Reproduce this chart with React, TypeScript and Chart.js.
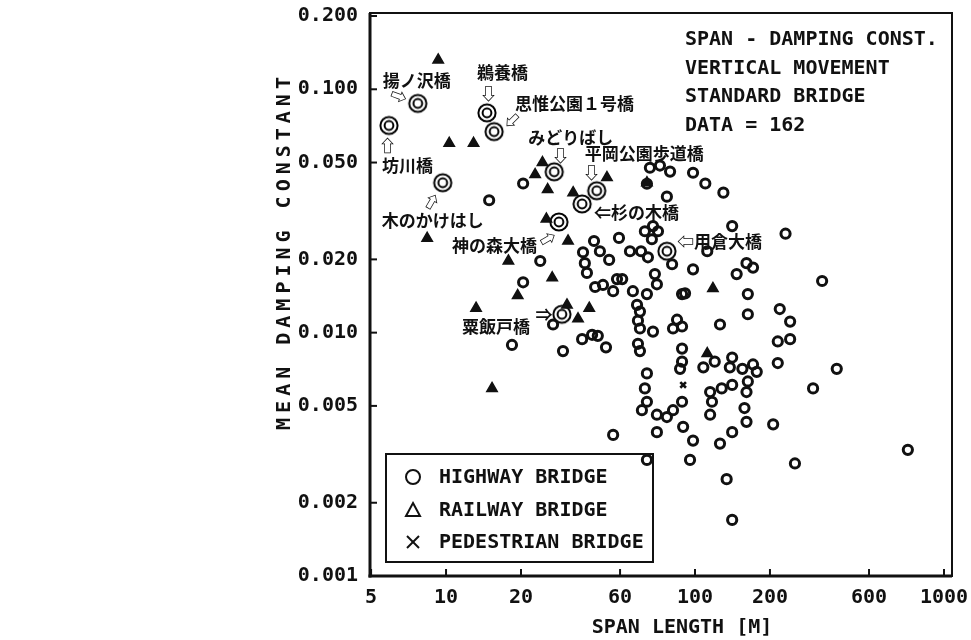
import React, { useEffect, useRef } from "react";
import { Chart, registerables } from "chart.js";

Chart.register(...registerables);

// ---------- DATA ----------
const highway: [number, number][] = [
  [20.4, 0.041], [14.9, 0.035], [23.9, 0.0197], [20.4, 0.0161], [18.4, 0.0089],
  [26.9, 0.0108], [29.5, 0.0084], [35.2, 0.0094], [38.6, 0.0098], [40.7, 0.0097],
  [43.9, 0.0087], [46.9, 0.0038], [35.5, 0.0214], [39.3, 0.0238], [41.5, 0.0216],
  [45.2, 0.0199], [36.1, 0.0193], [36.8, 0.0176], [39.7, 0.0154], [46.9, 0.0148],
  [48.6, 0.0166], [49.5, 0.0245], [42.7, 0.0157], [65.9, 0.0476], [72.3, 0.0486],
  [79.4, 0.0459], [64.1, 0.0409], [77.1, 0.0362], [98.2, 0.0454], [110, 0.041],
  [130, 0.0376], [141, 0.0274], [231, 0.0255], [62.9, 0.0261], [67.8, 0.0274],
  [71.0, 0.0261], [67.1, 0.0242], [54.8, 0.0216], [60.7, 0.0216], [64.7, 0.0204],
  [80.9, 0.0191], [51.0, 0.0166], [56.3, 0.0148], [69.0, 0.0174], [70.3, 0.0158],
  [64.1, 0.0144], [112, 0.0216], [98.2, 0.0182], [147, 0.0174], [161, 0.0193],
  [171, 0.0185], [163, 0.0144], [91.2, 0.0145], [324, 0.0163], [58.5, 0.013],
  [60.1, 0.0122], [59.0, 0.0112], [60.1, 0.0104], [67.8, 0.0101], [59.0, 0.009],
  [60.1, 0.0084], [84.7, 0.0113], [88.7, 0.0106], [81.6, 0.0104], [88.7, 0.0086],
  [88.7, 0.0076], [87.1, 0.0071], [64.1, 0.0068], [62.9, 0.0059], [64.1, 0.0052],
  [61.2, 0.0048], [70.3, 0.0046], [77.1, 0.0045], [81.6, 0.0048], [88.7, 0.0052],
  [89.6, 0.0041], [70.3, 0.0039], [64.1, 0.003], [88.7, 0.0144], [163, 0.0119],
  [126, 0.0108], [219, 0.0125], [241, 0.0111], [215, 0.0092], [241, 0.0094],
  [215, 0.0075], [371, 0.0071], [298, 0.0059], [120, 0.0076], [108, 0.0072],
  [141, 0.0079], [138, 0.0072], [155, 0.0071], [171, 0.0074], [177, 0.0069],
  [163, 0.0063], [141, 0.0061], [128, 0.0059], [115, 0.0057], [117, 0.0052],
  [115, 0.0046], [161, 0.0057], [158, 0.0049], [161, 0.0043], [206, 0.0042],
  [141, 0.0039], [126, 0.0035], [98.2, 0.0036], [95.5, 0.003], [252, 0.0029],
  [134, 0.0025], [141, 0.0017], [716, 0.0033],
];

const railway: [number, number][] = [
  [9.3, 0.132], [10.3, 0.060], [12.9, 0.060], [22.8, 0.0446], [8.4, 0.0244],
  [17.8, 0.0197], [19.4, 0.0142], [13.2, 0.0126], [15.3, 0.0059], [24.4, 0.05],
  [25.6, 0.0387], [32.4, 0.0376], [44.3, 0.0434], [64.1, 0.0413], [25.3, 0.0293],
  [30.9, 0.0238], [26.7, 0.0168], [30.6, 0.013], [37.6, 0.0126], [33.9, 0.0114],
  [118, 0.0152], [112, 0.0082],
];

const pedestrian: [number, number][] = [[89.6, 0.0061]];

const namedBridges = [
  "揚ノ沢橋", "坊川橋", "鵜養橋", "思惟公園１号橋", "木のかけはし", "みどりばし",
  "平岡公園歩道橋", "杉の木橋", "神の森大橋", "粟飯戸橋", "用倉大橋",
];
const namedSpan = [7.7, 5.9, 14.6, 15.6, 9.7, 27.2, 40.3, 35.2, 28.4, 29.2, 77.1];
const namedDamping = [0.0875, 0.071, 0.080, 0.067, 0.0413, 0.0458, 0.0383, 0.0338, 0.0285, 0.0119, 0.0216];

const xTickValues = [5, 10, 20, 50, 100, 200, 500, 1000];
const xTickLabels = ["5", "10", "20", "60", "100", "200", "600", "1000"];
const yTickValues = [0.001, 0.002, 0.005, 0.01, 0.02, 0.05, 0.1, 0.2];
const yTickLabels = ["0.001", "0.002", "0.005", "0.010", "0.020", "0.050", "0.100", "0.200"];

const infoLines = ["SPAN - DAMPING CONST.", "VERTICAL MOVEMENT", "STANDARD BRIDGE", "DATA = 162"];
const legendLabels = ["HIGHWAY BRIDGE", "RAILWAY BRIDGE", "PEDESTRIAN BRIDGE"];
const xTitle = "SPAN LENGTH [M]";
const yTitle = "MEAN DAMPING CONSTANT";

// ---------- STYLE / LAYOUT ----------
const INK = "#111111";
const MONO = "'DejaVu Sans Mono', 'Liberation Mono', monospace";
const JP = "'Noto Sans CJK JP', 'DejaVu Sans', sans-serif";

type LabelLayout = {
  dx: number; dy: number; align: CanvasTextAlign;
  arrow?: string; ax?: number; ay?: number; angle?: number; prefix?: string;
};
const namedLabelLayout: LabelLayout[] = [
  { dx: -35, dy: -23, align: "left", arrow: "⇨", ax: -19, ay: -7, angle: 20 },
  { dx: -7, dy: 40, align: "left", arrow: "⇨", ax: -1, ay: 20, angle: -90 },
  { dx: -10, dy: -40, align: "left", arrow: "⇨", ax: 1, ay: -19, angle: 90 },
  { dx: 21, dy: -28, align: "left", arrow: "⇨", ax: 18, ay: -11, angle: 135 },
  { dx: -61, dy: 38, align: "left", arrow: "⇨", ax: -11, ay: 19, angle: -60 },
  { dx: -26, dy: -34, align: "left", arrow: "⇨", ax: 6, ay: -16, angle: 90 },
  { dx: -12, dy: -37, align: "left", arrow: "⇨", ax: -5, ay: -18, angle: 90 },
  { dx: 12, dy: 9, align: "left", prefix: "⇐" },
  { dx: -22, dy: 24, align: "right", arrow: "⇨", ax: -11, ay: 17, angle: -30 },
  { dx: -32, dy: 12, align: "right", arrow: "⇒", ax: -18, ay: 0, angle: 0 },
  { dx: 10, dy: -10, align: "left", prefix: "⇦" },
];

const decorPlugin = {
  id: "decor",
  beforeDatasetsDraw(chart: any) {
    const { ctx, chartArea: a, scales } = chart;
    const xs = scales.x;
    const ys = scales.y;
    const line = (x1: number, y1: number, x2: number, y2: number) => {
      ctx.beginPath();
      ctx.moveTo(x1, y1);
      ctx.lineTo(x2, y2);
      ctx.stroke();
    };
    ctx.save();
    ctx.strokeStyle = INK;
    ctx.lineWidth = 2;
    ctx.strokeRect(a.left, a.top, a.right - a.left, a.bottom - a.top);
    ctx.lineWidth = 3;
    line(a.left, a.top, a.left, a.bottom + 1.5);
    line(a.left - 1.5, a.bottom, a.right, a.bottom);
    ctx.lineWidth = 2;
    xTickValues.forEach((v) => {
      const px = xs.getPixelForValue(v);
      line(px, a.bottom, px, a.bottom - 7);
    });
    yTickValues.forEach((v) => {
      const py = ys.getPixelForValue(v);
      line(a.left, py, a.left + 7, py);
    });

    // legend box
    const lx = a.left + 16, ly = a.bottom - 122, lw = 267, lh = 108;
    ctx.lineWidth = 2;
    ctx.strokeRect(lx, ly, lw, lh);
    const sx = lx + 27;
    const rows = [ly + 23, ly + 56, ly + 88];
    ctx.lineWidth = 2;
    ctx.beginPath();
    ctx.arc(sx, rows[0], 7, 0, Math.PI * 2);
    ctx.stroke();
    ctx.beginPath();
    ctx.moveTo(sx, rows[1] - 7);
    ctx.lineTo(sx + 7, rows[1] + 6);
    ctx.lineTo(sx - 7, rows[1] + 6);
    ctx.closePath();
    ctx.stroke();
    line(sx - 6, rows[2] - 6, sx + 6, rows[2] + 6);
    line(sx + 6, rows[2] - 6, sx - 6, rows[2] + 6);
    ctx.fillStyle = INK;
    ctx.font = `bold 20px ${MONO}`;
    ctx.textAlign = "left";
    ctx.textBaseline = "middle";
    legendLabels.forEach((t, i) => ctx.fillText(t, lx + 53, rows[i] + 1));

    // info text
    infoLines.forEach((t, i) => ctx.fillText(t, a.right - 267, a.top + 27 + i * 28.5));

    // axis titles
    ctx.textAlign = "center";
    ctx.fillText(xTitle, 682, 628);
    ctx.save();
    ctx.translate(285, 253);
    ctx.rotate(-Math.PI / 2);
    (ctx as any).letterSpacing = "5px";
    ctx.fillText(yTitle, 2, 0);
    ctx.restore();

    // named bridge labels
    namedBridges.forEach((name, i) => {
      const L = namedLabelLayout[i];
      const px = xs.getPixelForValue(namedSpan[i]);
      const py = ys.getPixelForValue(namedDamping[i]);
      ctx.textAlign = L.align;
      ctx.font = `bold 17px ${JP}`;
      ctx.fillText((L.prefix || "") + name, px + L.dx, py + L.dy);
      if (L.arrow) {
        ctx.save();
        ctx.translate(px + (L.ax || 0), py + (L.ay || 0));
        ctx.rotate(((L.angle || 0) * Math.PI) / 180);
        ctx.textAlign = "center";
        ctx.font = `bold 17px ${JP}`;
        ctx.fillText(L.arrow, 0, 0);
        ctx.restore();
      }
    });
    ctx.restore();
  },
};

export default function App() {
  const ref = useRef<HTMLCanvasElement>(null);
  useEffect(() => {
    const canvas = ref.current!;
    const ring = document.createElement("canvas");
    ring.width = 22;
    ring.height = 22;
    const rc = ring.getContext("2d")!;
    rc.strokeStyle = "#000";
    rc.lineWidth = 2;
    rc.beginPath();
    rc.arc(11, 11, 8.6, 0, Math.PI * 2);
    rc.stroke();
    rc.beginPath();
    rc.arc(11, 11, 4.4, 0, Math.PI * 2);
    rc.stroke();

    const tickFont = { family: MONO, size: 20, weight: "bold" as const };
    const chart = new Chart(canvas, {
      type: "scatter",
      data: {
        datasets: [
          {
            label: legendLabels[0],
            data: highway.map(([x, y]) => ({ x, y })),
            pointStyle: "circle",
            pointRadius: 4.6,
            borderWidth: 3,
            borderColor: INK,
            backgroundColor: "rgba(0,0,0,0)",
          },
          {
            label: legendLabels[1],
            data: railway.map(([x, y]) => ({ x, y })),
            pointStyle: "triangle",
            pointRadius: 6,
            borderWidth: 1.5,
            borderColor: INK,
            backgroundColor: INK,
          },
          {
            label: legendLabels[2],
            data: pedestrian.map(([x, y]) => ({ x, y })),
            pointStyle: "crossRot",
            pointRadius: 4,
            borderWidth: 2.6,
            borderColor: INK,
          },
          {
            label: "named",
            data: namedSpan.map((x, i) => ({ x, y: namedDamping[i] })),
            pointStyle: ring as any,
            pointRadius: 11,
            borderColor: INK,
            backgroundColor: "rgba(0,0,0,0)",
          },
        ],
      },
      options: {
        responsive: false,
        animation: false,
        devicePixelRatio: 1,
        layout: { padding: { top: 13, right: 19, left: 0, bottom: 0 } },
        plugins: { legend: { display: false }, tooltip: { enabled: false } },
        scales: {
          x: {
            type: "logarithmic",
            min: 4.95,
            max: 1077,
            bounds: "data",
            afterBuildTicks: (s: any) => {
              s.ticks = xTickValues.map((v) => ({ value: v }));
            },
            afterFit: (s: any) => {
              s.height = 64;
              s.paddingLeft = 0;
              s.paddingRight = 0;
            },
            ticks: {
              callback: (v: any) => xTickLabels[xTickValues.indexOf(Number(v))] ?? "",
              font: tickFont,
              color: INK,
              padding: 10,
              maxRotation: 0,
              autoSkip: false,
            },
            grid: { display: false, drawTicks: false },
            border: { display: false },
          },
          y: {
            type: "logarithmic",
            min: 0.001,
            max: 0.2058,
            bounds: "data",
            afterBuildTicks: (s: any) => {
              s.ticks = yTickValues.map((v) => ({ value: v }));
            },
            afterFit: (s: any) => {
              s.width = 370;
              s.paddingTop = 0;
              s.paddingBottom = 0;
            },
            ticks: {
              callback: (v: any) => yTickLabels[yTickValues.indexOf(Number(v))] ?? "",
              font: tickFont,
              color: INK,
              padding: 12,
              autoSkip: false,
            },
            grid: { display: false, drawTicks: false },
            border: { display: false },
          },
        },
      } as any,
      plugins: [decorPlugin],
    });
    return () => chart.destroy();
  }, []);

  return (
    <div style={{ position: "absolute", left: 0, top: 0, width: 971, height: 640, background: "#fff" }}>
      <canvas ref={ref} width={971} height={640} style={{ display: "block", width: 971, height: 640 }} />
    </div>
  );
}
